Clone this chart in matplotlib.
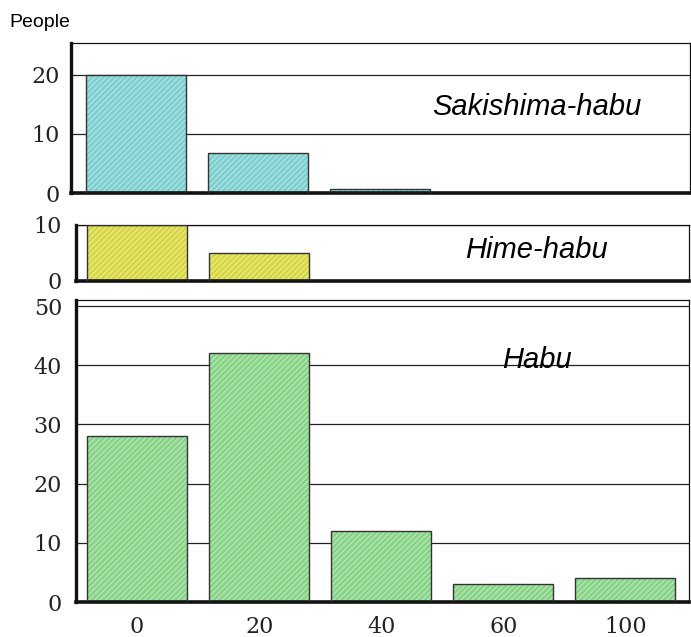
import matplotlib
matplotlib.use("Agg")
import matplotlib.pyplot as plt

# Age groups (x tick labels) and counts of people bitten per snake species
age_labels = ["0", "20", "40", "60", "100"]
sakishima = [20, 6.7, 0.7, 0, 0]
hime = [10, 5, 0, 0, 0]
habu = [28, 42, 12, 3, 4]

panels = [
    # values, face, hatch shade, name, axes rect, ylim, yticks, label y, xlim, pad
    (sakishima, "#7ccfcf", "#ace2e2", "Sakishima-habu",
     [0.1027, 0.697, 0.896, 0.2355], (0, 25.4), [0, 10, 20], 0.573, (-0.53, 4.54), 8),
    (hime, "#d6d640", "#eaea88", "Hime-habu",
     [0.110, 0.5589, 0.887, 0.0879], (0, 10), [0, 10], 0.55, (-0.5, 4.52), 10),
    (habu, "#86d386", "#b4e6b4", "Habu",
     [0.110, 0.0549, 0.887, 0.474], (0, 51), [0, 10, 20, 30, 40, 50], 0.80, (-0.5, 4.52), 10),
]

fig = plt.figure(figsize=(6.91, 6.37), dpi=100)
serif = ["DejaVu Serif"]
sans = ["Liberation Sans", "DejaVu Sans"]

for i, (vals, face, shade, name, rect, ylim, yticks, ly, xlim, pad) in enumerate(panels):
    ax = fig.add_axes(rect)
    x = range(len(age_labels))
    ax.bar(x, vals, width=0.82, color=face, hatch="//////", edgecolor=shade,
           linewidth=0, zorder=2)
    ax.bar(x, [v if v > 0 else float("nan") for v in vals], width=0.82,
           facecolor="none", edgecolor="#333333", linewidth=1.0, zorder=3)
    ax.set_xlim(*xlim)
    ax.set_ylim(*ylim)
    ax.set_yticks(yticks)
    ax.yaxis.grid(True, color="#222222", linewidth=0.9, zorder=1)
    ax.set_axisbelow(True)
    ax.tick_params(axis="y", length=0, pad=pad, labelsize=16, labelcolor="#222222")
    for lab in ax.get_yticklabels():
        lab.set_family(serif)
    if i == 2:
        ax.set_xticks(list(x))
        ax.set_xticklabels(age_labels, family=serif, fontsize=16, color="#222222")
        ax.tick_params(axis="x", length=0, pad=10)
    else:
        ax.set_xticks([])
    ax.spines["left"].set_linewidth(2.4)
    ax.spines["bottom"].set_linewidth(2.6)
    ax.spines["top"].set_linewidth(0.9)
    ax.spines["right"].set_linewidth(0.9)
    for s in ax.spines.values():
        s.set_color("#111111")
    ax.text(0.752, ly, name, transform=ax.transAxes, ha="center", va="center",
            style="italic", fontsize=21, family=sans)

fig.text(0.014, 0.965, "People", ha="left", va="center", fontsize=14, family=sans)

fig.savefig("out.png", dpi=100)
